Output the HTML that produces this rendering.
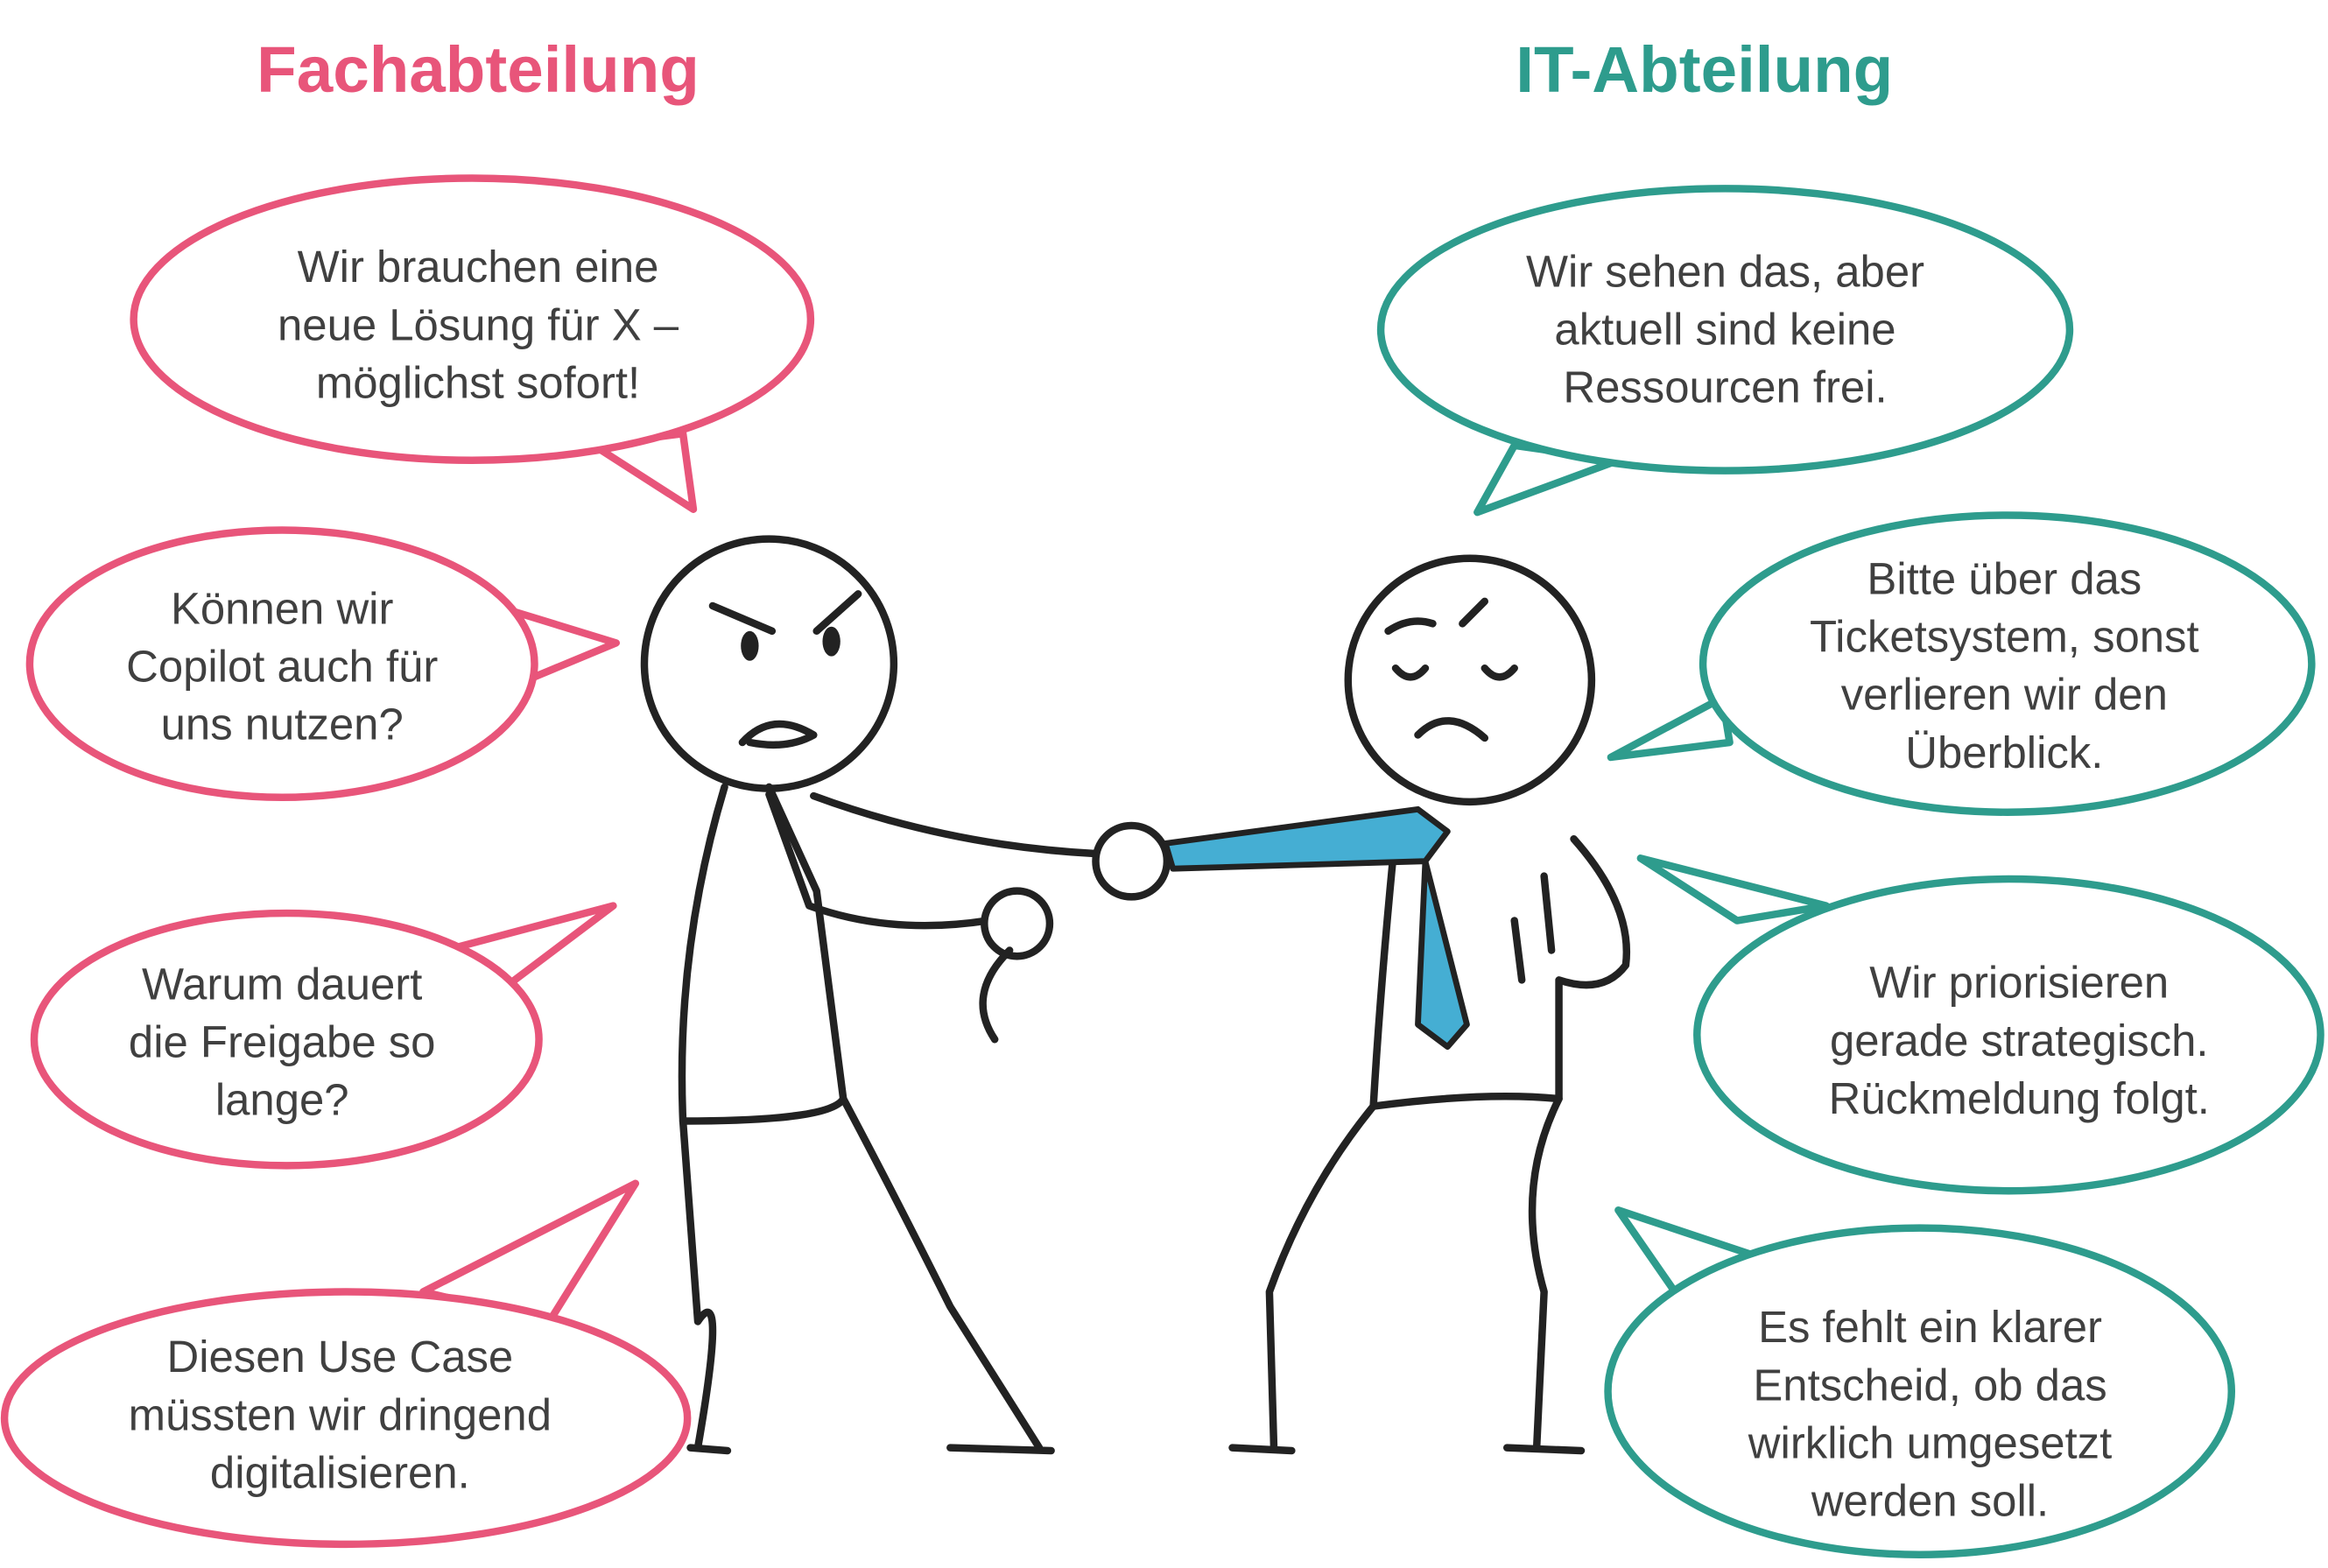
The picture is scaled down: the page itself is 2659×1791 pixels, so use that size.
<!DOCTYPE html>
<html><head><meta charset="utf-8"><style>
html,body{margin:0;padding:0;background:#fff;}
svg{display:block;}
text{font-family:"Liberation Sans","DejaVu Sans",sans-serif;}
</style></head><body>
<svg width="2659" height="1791" viewBox="0 0 1568 1056" preserveAspectRatio="none" xmlns="http://www.w3.org/2000/svg">
<rect width="1568" height="1056" fill="#fff"/>
<g font-weight="bold" font-size="44" text-anchor="middle">
<text x="322" y="62" fill="#e8557a">Fachabteilung</text>
<text x="1148" y="62" fill="#2e9c8d">IT-Abteilung</text>
</g>
<!-- pink bubbles -->
<g fill="#fff" stroke="#e8557a" stroke-width="5" stroke-linejoin="round">
<path d="M400 300 L467 343 L460 292 Z"/>
<ellipse cx="318" cy="215" rx="228" ry="95"/>
<path d="M340 410 L415 433 L350 460 Z"/>
<ellipse cx="190" cy="447" rx="170" ry="90"/>
<path d="M300 640 L413 610 L340 665 Z"/>
<ellipse cx="193" cy="700" rx="170" ry="85"/>
<path d="M285 870 L428 797 L370 890 Z"/>
<ellipse cx="233" cy="955" rx="230" ry="85"/>
</g>
<!-- teal bubbles -->
<g fill="#fff" stroke="#2e9c8d" stroke-width="5" stroke-linejoin="round">
<path d="M1020 300 L995 345 L1090 310 Z"/>
<ellipse cx="1162" cy="222" rx="232" ry="95"/>
<path d="M1160 470 L1085 510 L1165 500 Z"/>
<ellipse cx="1352" cy="447" rx="205" ry="100"/>
<path d="M1170 620 L1105 578 L1230 610 Z"/>
<ellipse cx="1353" cy="697" rx="210" ry="105"/>
<path d="M1135 880 L1090 815 L1210 855 Z"/>
<ellipse cx="1293" cy="937" rx="210" ry="110"/>
</g>
<g font-size="30" fill="#404040" text-anchor="middle">
<text x="322" y="190">Wir brauchen eine</text>
<text x="322" y="229">neue Lösung für X –</text>
<text x="322" y="268">möglichst sofort!</text>
<text x="190" y="420">Können wir</text>
<text x="190" y="459">Copilot auch für</text>
<text x="190" y="498">uns nutzen?</text>
<text x="190" y="673">Warum dauert</text>
<text x="190" y="712">die Freigabe so</text>
<text x="190" y="751">lange?</text>
<text x="229" y="924">Diesen Use Case</text>
<text x="229" y="963">müssten wir dringend</text>
<text x="229" y="1002">digitalisieren.</text>
<text x="1162" y="193">Wir sehen das, aber</text>
<text x="1162" y="232">aktuell sind keine</text>
<text x="1162" y="271">Ressourcen frei.</text>
<text x="1350" y="400">Bitte über das</text>
<text x="1350" y="439">Ticketsystem, sonst</text>
<text x="1350" y="478">verlieren wir den</text>
<text x="1350" y="517">Überblick.</text>
<text x="1360" y="672">Wir priorisieren</text>
<text x="1360" y="711">gerade strategisch.</text>
<text x="1360" y="750">Rückmeldung folgt.</text>
<text x="1300" y="904">Es fehlt ein klarer</text>
<text x="1300" y="943">Entscheid, ob das</text>
<text x="1300" y="982">wirklich umgesetzt</text>
<text x="1300" y="1021">werden soll.</text>
</g>
<!-- left figure -->
<g fill="none" stroke="#222" stroke-width="5" stroke-linecap="round" stroke-linejoin="round">
<circle cx="518" cy="447" r="84" fill="#fff"/>
<path d="M480 408 L520 425 M550 425 L578 400"/>
<path d="M500 500 Q520 478 548 495 Q530 505 505 500"/>
<path d="M488 530 Q455 640 460 755 L470 890 Q490 860 470 975"/>
<path d="M518 530 L550 600 L568 740 Q560 755 460 755"/>
<path d="M568 740 Q600 800 640 880 L700 975"/>
<path d="M465 975 L490 977 M640 975 L708 977"/>
<path d="M518 535 L545 610 Q600 630 665 620"/>
<path d="M548 536 Q640 570 740 575"/>
<circle cx="685" cy="622" r="22" fill="#fff"/>
<path d="M680 640 Q650 670 670 700"/>
</g>
<g fill="#222"><ellipse cx="505" cy="435" rx="6" ry="10"/><ellipse cx="560" cy="432" rx="6" ry="10"/></g>
<!-- right figure -->
<g fill="none" stroke="#222" stroke-width="5" stroke-linecap="round" stroke-linejoin="round">
<circle cx="990" cy="458" r="82" fill="#fff"/>
<path d="M935 425 Q950 415 965 420 M985 420 Q995 410 1000 405"/>
<path d="M940 450 Q950 462 960 450 M1000 450 Q1010 462 1020 450"/>
<path d="M955 495 Q975 475 1000 497"/>
<path d="M940 560 Q930 660 925 745 Q880 800 855 870 L858 975"/>
<path d="M1060 565 Q1100 610 1095 650 Q1080 670 1050 660 L1050 740 Q1000 735 925 745"/>
<path d="M1050 740 Q1020 800 1040 870 L1035 975"/>
<path d="M830 975 L870 977 M1015 975 L1065 977"/>
<path d="M1020 620 L1025 660 M1040 590 L1045 640"/>
</g>
<path d="M785 568 L955 545 L975 560 L960 580 L988 690 L975 705 L955 690 L960 580 L790 585 Z" fill="#45aed3" stroke="#222" stroke-width="4" stroke-linejoin="round"/>
<circle cx="762" cy="580" r="24" fill="#fff" stroke="#222" stroke-width="5"/>
</svg>
</body></html>
